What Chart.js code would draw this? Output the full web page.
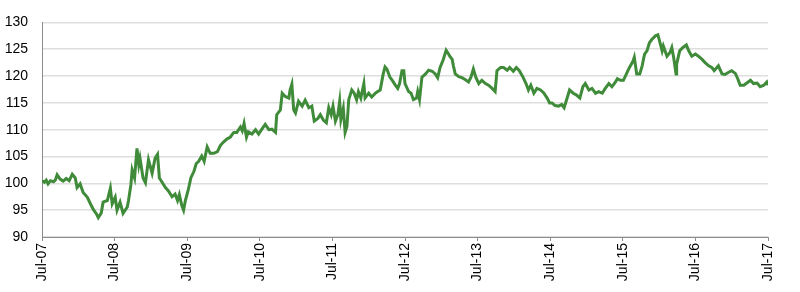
<!DOCTYPE html>
<html>
<head>
<meta charset="utf-8">
<script src="https://cdn.jsdelivr.net/npm/chart.js@4"></script>
<style>
  html, body { margin: 0; padding: 0; background: #fff; }
</style>
</head>
<body>
<canvas id="myChart" width="800" height="292"></canvas>
<script>

// x axis: months since Jul-07
var tickLabels = ['Jul-07', 'Jul-08', 'Jul-09', 'Jul-10', 'Jul-11', 'Jul-12',
                  'Jul-13', 'Jul-14', 'Jul-15', 'Jul-16', 'Jul-17'];

var months = [
  0.0, 0.4, 0.7, 1.0, 1.4, 1.9, 2.2, 2.5, 3.0, 3.5, 4.0, 4.5, 5.0, 5.5, 5.8, 6.3, 6.8, 7.5, 8.0, 8.5,
  9.0, 9.3, 9.8, 10.1, 10.8, 11.3, 11.6, 12.1, 12.4, 12.9, 13.4, 14.1, 14.3, 14.7, 14.9, 15.3, 15.7, 16.0, 16.2, 16.7,
  17.1, 17.6, 18.2, 18.7, 19.1, 19.4, 19.8, 20.4, 20.9, 21.5, 22.0, 22.4, 22.7, 23.1, 23.4, 23.7, 24.2, 24.6, 25.1, 25.5,
  25.9, 26.4, 26.8, 27.3, 27.8, 28.4, 29.0, 29.5, 30.0, 30.6, 31.1, 31.7, 32.2, 32.8, 33.1, 33.4, 33.8, 34.1, 34.7, 35.3,
  35.8, 36.4, 36.9, 37.5, 38.0, 38.6, 38.8, 39.4, 39.7, 40.2, 40.8, 41.0, 41.3, 41.6, 41.9, 42.4, 43.0, 43.5, 44.1, 44.6,
  45.0, 45.6, 46.0, 46.5, 47.0, 47.4, 47.8, 48.1, 48.5, 48.9, 49.2, 49.4, 49.8, 50.1, 50.4, 50.7, 51.2, 51.6, 52.0, 52.3,
  52.7, 53.2, 53.4, 54.0, 54.5, 55.1, 55.5, 55.9, 56.4, 56.7, 57.0, 57.5, 57.9, 58.4, 58.8, 59.1, 59.5, 59.8, 60.0, 60.6,
  61.0, 61.4, 61.9, 62.1, 62.4, 62.8, 63.4, 63.9, 64.5, 65.0, 65.4, 65.8, 66.3, 66.8, 67.2, 67.4, 67.8, 68.0, 68.3, 68.9,
  69.4, 70.0, 70.5, 70.9, 71.3, 71.7, 72.2, 72.7, 73.3, 73.8, 74.4, 74.9, 75.2, 75.8, 76.3, 76.9, 77.3, 77.9, 78.4, 78.9,
  79.5, 80.0, 80.4, 80.8, 81.3, 81.8, 82.4, 82.9, 83.5, 83.9, 84.3, 84.8, 85.4, 85.9, 86.3, 86.8, 87.2, 87.8, 88.3, 88.9,
  89.4, 89.8, 90.4, 90.9, 91.5, 92.0, 92.6, 93.1, 93.7, 94.2, 94.8, 95.1, 95.6, 96.1, 96.6, 97.1, 97.7, 97.9, 98.3, 98.8,
  99.2, 99.6, 100.0, 100.4, 100.8, 101.4, 101.8, 102.2, 102.5, 102.7, 103.3, 103.8, 104.1, 104.4, 104.8, 104.9, 105.4, 105.9, 106.5, 106.9,
  107.4, 108.0, 108.5, 109.1, 109.6, 110.2, 110.7, 111.1, 111.8, 112.4, 112.9, 113.5, 114.0, 114.6, 115.0, 115.4, 116.0, 116.5, 117.1, 117.6,
  118.2, 118.7, 119.3, 119.8, 120.0
];

var indexValues = [
  100.5, 100.2, 100.6, 99.9, 100.5, 100.3, 100.6, 101.6, 100.8, 100.4, 100.9, 100.5, 101.7, 101.0, 99.2, 99.9, 98.3, 97.4, 96.2, 95.1,
  94.3, 93.6, 94.5, 96.5, 96.8, 99.1, 96.2, 97.4, 95.0, 96.5, 94.4, 95.6, 96.8, 99.8, 102.5, 101.0, 106.5, 103.5, 104.7, 101.0,
  100.1, 104.4, 101.9, 104.7, 105.4, 101.0, 100.3, 99.2, 98.6, 97.5, 98.0, 96.8, 97.9, 95.9, 95.0, 96.8, 98.9, 101.0, 102.2, 103.7,
  104.1, 105.1, 104.1, 106.8, 105.6, 105.6, 105.9, 107.1, 107.7, 108.3, 108.6, 109.5, 109.5, 110.5, 109.8, 111.2, 108.6, 109.6, 109.2, 110.0,
  109.2, 110.2, 111.0, 110.0, 110.1, 109.5, 112.8, 113.7, 116.8, 116.2, 115.9, 117.4, 118.5, 113.7, 113.1, 115.3, 114.4, 115.5, 114.1, 114.4,
  111.6, 112.1, 112.8, 111.8, 111.3, 114.1, 112.8, 114.4, 111.6, 112.8, 115.3, 111.9, 114.0, 109.5, 110.6, 115.6, 117.4, 116.8, 115.6, 117.1,
  115.9, 118.6, 115.9, 116.8, 116.1, 116.8, 117.1, 117.4, 120.4, 121.7, 121.3, 119.8, 119.2, 118.3, 117.7, 118.6, 121.0, 121.0, 118.6, 117.1,
  116.8, 115.6, 115.9, 117.1, 115.6, 119.8, 120.4, 121.1, 120.9, 120.4, 119.7, 121.6, 123.0, 124.8, 124.1, 123.7, 123.1, 121.9, 120.4, 119.9,
  119.7, 119.3, 118.9, 119.8, 121.3, 119.8, 118.6, 119.2, 118.6, 118.3, 117.7, 117.1, 121.0, 121.6, 121.6, 121.1, 121.6, 120.9, 121.6, 121.0,
  119.8, 118.6, 117.4, 118.3, 116.8, 117.7, 117.4, 116.9, 115.9, 115.0, 115.0, 114.5, 114.4, 114.7, 114.1, 115.9, 117.4, 116.8, 116.5, 115.9,
  118.0, 118.6, 117.4, 117.7, 116.8, 117.1, 116.8, 117.7, 118.6, 118.0, 118.9, 119.5, 119.2, 119.2, 120.4, 121.6, 122.8, 123.5, 120.4, 120.4,
  121.9, 124.1, 124.7, 126.2, 126.8, 127.5, 127.7, 126.0, 124.7, 125.6, 123.7, 124.4, 125.3, 123.5, 120.4, 122.2, 124.7, 125.3, 125.8, 124.7,
  123.7, 124.1, 123.7, 123.1, 122.5, 121.9, 121.6, 121.0, 121.9, 120.4, 120.3, 120.7, 121.0, 120.5, 119.5, 118.3, 118.3, 118.7, 119.2, 118.6,
  118.7, 118.0, 118.3, 118.9, 118.3
];

var yTicks = [90, 95, 100, 105, 110, 115, 120, 125, 130];

var points = [];
for (var i = 0; i < months.length; i++) {
  points.push({ x: months[i], y: indexValues[i] });
}

var labelFont = { family: '"Liberation Sans Narrow", "Liberation Sans", Arial, sans-serif', size: 14 };

var ctx = document.getElementById('myChart').getContext('2d');
var myChart = new Chart(ctx, {
  type: 'line',
  data: {
    datasets: [{
      data: points,
      borderColor: '#3f8b39',
      borderWidth: 3,
      pointRadius: 0,
      tension: 0,
      fill: false
    }]
  },
  options: {
    responsive: false,
    animation: false,
    devicePixelRatio: 1,
    layout: { padding: { top: 17, right: 32, left: 0, bottom: 0 } },
    plugins: { legend: { display: false }, tooltip: { enabled: false } },
    scales: {
      x: {
        type: 'linear',
        min: 0,
        max: 120,
        afterFit: function (scale) { scale.height = 55; },
        afterBuildTicks: function (scale) {
          scale.ticks = tickLabels.map(function (t, k) { return { value: k * 12 }; });
        },
        ticks: {
          autoSkip: false,
          minRotation: 90,
          maxRotation: 90,
          padding: 2,
          color: '#000',
          font: labelFont,
          callback: function (v) { return tickLabels[Math.round(v / 12)]; }
        },
        grid: { drawOnChartArea: false, drawTicks: true, tickLength: 4, color: '#8c8c8c' },
        border: { color: '#8c8c8c', width: 1 }
      },
      y: {
        min: 90,
        max: 130,
        afterFit: function (scale) { scale.width = 42; },
        afterBuildTicks: function (scale) {
          scale.ticks = yTicks.map(function (v) { return { value: v }; });
        },
        ticks: { padding: 14, color: '#000', font: labelFont },
        grid: { color: '#dedede', lineWidth: 1.5, drawTicks: false },
        border: { color: '#8c8c8c', width: 1 }
      }
    }
  }
});

</script>
</body>
</html>
